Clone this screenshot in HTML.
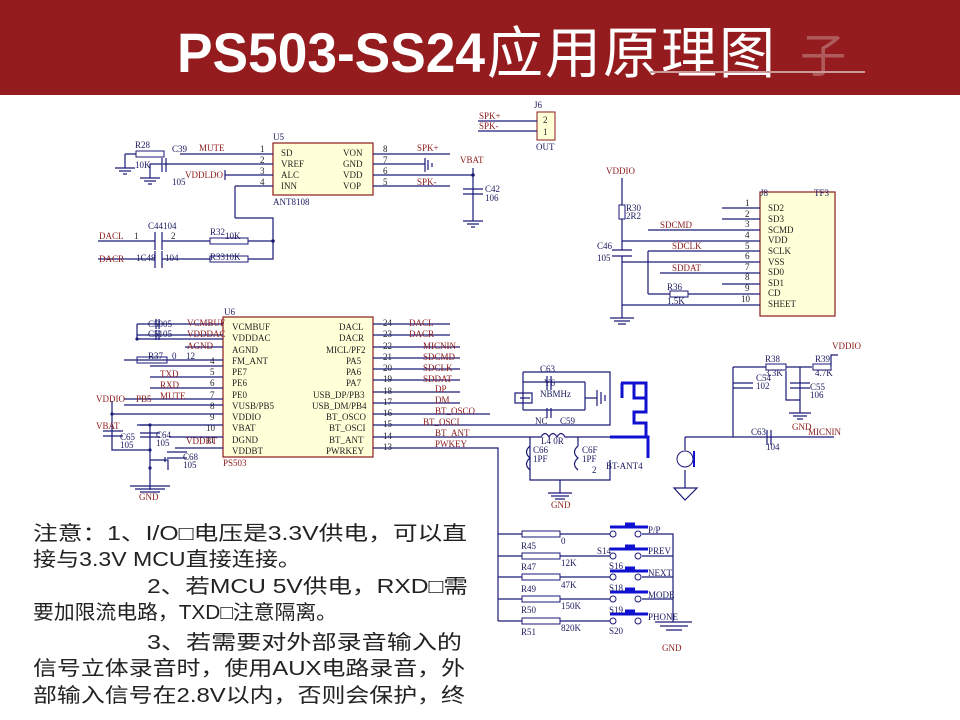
<!DOCTYPE html>
<html><head><meta charset="utf-8"><style>
body{margin:0;width:960px;height:720px;overflow:hidden;background:#fff}
svg{display:block}
.w{stroke:#1a1a78;stroke-width:1.2;fill:none}
.b{stroke:#1010d0;stroke-width:3;fill:none}
.lb{font-family:"Liberation Serif",serif;font-size:9px;fill:#1a1a60}
.nl{font-family:"Liberation Serif",serif;font-size:9px;fill:#8b1a1a}
.pn{font-family:"Liberation Serif",serif;font-size:9px;fill:#222}
.chip{fill:#ffffd8;stroke:#8b1a1a;stroke-width:1.2}
.note{font-family:"Liberation Sans","Noto Sans CJK SC",sans-serif;font-size:20px;fill:#222}
</style></head><body>
<svg width="960" height="720" viewBox="0 0 960 720">
<rect x="0" y="0" width="960" height="95" fill="#941c1e"/>
<text x="800" y="72" font-family="'Noto Sans CJK SC',sans-serif" font-size="46" fill="#b77" opacity="0.7">子</text>
<text x="177" y="72" font-family="'Liberation Sans','Noto Sans CJK SC',sans-serif" font-size="56" font-weight="bold" fill="#fff" textLength="308" lengthAdjust="spacingAndGlyphs">PS503-SS24</text>
<text x="487" y="73" font-family="'Noto Sans CJK SC',sans-serif" font-size="56" fill="#fff" textLength="288">应用原理图</text>
<line x1="650" y1="72" x2="865" y2="72" stroke="#c99" stroke-width="2"/>

<!-- J6 -->
<text class="lb" x="534" y="108" font-size="7">J6</text>
<rect x="537" y="112" width="18" height="28" fill="#ffffd8" stroke="#8b1a1a"/>
<text class="pn" x="543" y="123">2</text><text class="pn" x="543" y="135">1</text>
<text class="lb" x="536" y="150" font-size="7">OUT</text>
<line class="w" x1="478" y1="121" x2="537" y2="121"/><line class="w" x1="478" y1="131" x2="537" y2="131"/>
<text class="nl" x="479" y="119">SPK+</text><text class="nl" x="479" y="129">SPK-</text>

<!-- U5 -->
<rect class="chip" x="273" y="143" width="100" height="52"/>
<text class="lb" x="273" y="140">U5</text><text class="lb" x="273" y="205">ANT8108</text>
<g class="pn"><text x="281" y="156">SD</text><text x="281" y="167">VREF</text><text x="281" y="178">ALC</text><text x="281" y="189">INN</text>
<text x="343" y="156">VON</text><text x="343" y="167">GND</text><text x="343" y="178">VDD</text><text x="343" y="189">VOP</text>
<text x="260" y="152">1</text><text x="260" y="163">2</text><text x="260" y="174">3</text><text x="260" y="185">4</text>
<text x="383" y="152">8</text><text x="383" y="163">7</text><text x="383" y="174">6</text><text x="383" y="185">5</text></g>
<path class="w" d="M180 154H273M163 164H273M225 175H273M235 186H273M373 154H450M373 164H420M373 175H473M373 186H450"/>
<path class="w" d="M235 186V218"/>
<rect x="136" y="151" width="28" height="6" fill="none" stroke="#1a1a78"/>
<path class="w" d="M125 154H136M125 154V168M115 168H135M119 171H131M123 174H127"/>
<path class="w" d="M162 158V172M166 158V172M162 164H150V178M140 178H160M144 181H156M148 184H152"/>
<path class="w" d="M225 170V180"/>
<text class="nl" x="199" y="151">MUTE</text><text class="lb" x="135" y="148">R28</text><text class="lb" x="135" y="168">10K</text>
<text class="lb" x="172" y="152">C39</text><text class="lb" x="172" y="185">105</text><text class="nl" x="185" y="178">VDDLDO</text>
<path class="w" d="M425 158V172M428 160V170M432 163V167M420 164H425"/>
<text class="nl" x="417" y="151">SPK+</text><text class="nl" x="417" y="185">SPK-</text>
<text class="nl" x="460" y="163">VBAT</text>
<path class="w" d="M473 168V221M463 189H483M463 194H483M463 221H483M467 224H479M471 227H475"/>
<circle cx="473" cy="175" r="1.8" fill="#1a1a78"/>
<text class="lb" x="485" y="192">C42</text><text class="lb" x="485" y="201">106</text>
<path class="w" d="M98 241H155M162 241H210M248 241H273M98 259H155M162 259H210M248 259H273V218H235"/>
<path class="w" d="M155 232V250M162 232V250M155 251V268M162 251V268"/>
<rect x="210" y="238" width="38" height="6" fill="none" stroke="#1a1a78"/><rect x="210" y="256" width="38" height="6" fill="none" stroke="#1a1a78"/>
<circle cx="273" cy="241" r="1.8" fill="#1a1a78"/>
<text class="nl" x="99" y="239">DACL</text><text class="nl" x="99" y="262">DACR</text>
<text class="pn" x="134" y="239">1</text><text class="pn" x="171" y="239">2</text><text class="lb" x="148" y="229">C44104</text>
<text class="lb" x="136" y="261">1C48</text><text class="lb" x="165" y="261">104</text><text class="lb" x="210" y="235">R32</text><text class="lb" x="225" y="239">10K</text><text class="lb" x="210" y="260">R3310K</text>

<!-- U6 -->
<rect class="chip" x="223" y="317" width="150" height="140"/>
<text class="lb" x="224" y="315">U6</text><text class="nl" x="223" y="466">PS503</text>
<g class="pn">
<text x="232" y="330">VCMBUF</text><text x="232" y="341">VDDDAC</text><text x="232" y="353">AGND</text><text x="232" y="364">FM_ANT</text><text x="232" y="375">PE7</text><text x="232" y="386">PE6</text><text x="232" y="398">PE0</text><text x="232" y="409">VUSB/PB5</text><text x="232" y="420">VDDIO</text><text x="232" y="431">VBAT</text><text x="232" y="443">DGND</text><text x="232" y="454">VDDBT</text>
<text x="339" y="330">DACL</text><text x="339" y="341">DACR</text><text x="326" y="353">MICL/PF2</text><text x="346" y="364">PA5</text><text x="346" y="375">PA6</text><text x="346" y="386">PA7</text><text x="313" y="398">USB_DP/PB3</text><text x="312" y="409">USB_DM/PB4</text><text x="326" y="420">BT_OSCO</text><text x="329" y="431">BT_OSCI</text><text x="329" y="443">BT_ANT</text><text x="326" y="454">PWRKEY</text>
<text x="210" y="364">4</text><text x="210" y="375">5</text><text x="210" y="386">6</text><text x="210" y="398">7</text><text x="210" y="409">8</text><text x="210" y="420">9</text><text x="206" y="431">10</text><text x="206" y="443">11</text>
<text x="383" y="326">24</text><text x="383" y="337">23</text><text x="383" y="349">22</text><text x="383" y="360">21</text><text x="383" y="371">20</text><text x="383" y="382">19</text><text x="383" y="394">18</text><text x="383" y="405">17</text><text x="383" y="416">16</text><text x="383" y="427">15</text><text x="383" y="439">14</text><text x="383" y="450">13</text>
</g>
<path class="w" d="M137 324H223M137 335H223M137 324V339H223M185 347H223M124 360H223M150 366H223M150 377H223M150 388H223M124 399H223M124 405H223M112 414H223M137 425H223M170 437H223M175 448H223"/>
<path class="w" d="M373 324H450M373 335H450M373 347H460M373 358H460M373 369H460M373 380H460M373 392H460M373 403H460M373 414H490M373 425H490M373 437H490M373 448H490"/>
<path class="w" d="M156 319V329M159 319V329M156 330V340M159 330V340"/>
<rect x="137" y="357" width="30" height="6" fill="none" stroke="#1a1a78"/>
<path class="w" d="M112 401V450H150V490M150 425V450M140 425H150M150 460H168V470M165 462V457M130 486H170M135 489H165M140 492H160M103 431H123M103 436H123M140 433H160M140 437H160M167 452H187M167 458H187"/>
<circle cx="112" cy="414" r="1.6" fill="#1a1a78"/><circle cx="150" cy="425" r="1.6" fill="#1a1a78"/><circle cx="150" cy="450" r="1.6" fill="#1a1a78"/><circle cx="150" cy="468" r="1.6" fill="#1a1a78"/><circle cx="137" cy="339" r="1.6" fill="#1a1a78"/>
<g class="nl"><text x="187" y="326">VCMBUF</text><text x="187" y="337">VDDDAC</text><text x="187" y="349">AGND</text><text x="160" y="377">TXD</text><text x="160" y="388">RXD</text><text x="160" y="399">MUTE</text><text x="96" y="402">VDDIO</text><text x="136" y="402">PB5</text><text x="96" y="429">VBAT</text><text x="186" y="444">VDDBT</text><text x="139" y="500">GND</text>
<text x="409" y="326">DACL</text><text x="409" y="337">DACR</text><text x="423" y="349">MICNIN</text><text x="423" y="360">SDCMD</text><text x="423" y="371">SDCLK</text><text x="423" y="382">SDDAT</text><text x="435" y="392">DP</text><text x="435" y="403">DM</text><text x="435" y="414">BT_OSCO</text><text x="423" y="425">BT_OSCI</text><text x="435" y="436">BT_ANT</text><text x="435" y="447">PWKEY</text></g>
<g class="lb"><text x="148" y="327">C5005</text><text x="148" y="337">C5105</text><text x="148" y="359">R37</text><text x="172" y="359">0</text><text x="186" y="359">12</text><text x="120" y="440">C65</text><text x="120" y="448">105</text><text x="156" y="438">C64</text><text x="156" y="446">105</text><text x="183" y="460">C68</text><text x="183" y="468">105</text></g>

<!-- crystal / antenna -->
<path class="w" d="M523 372H610V425H490M523 382H585M523 410H585M523 372V410M585 382V410M520 398H530M515 393H532V403H515Z"/>
<path class="w" d="M547 376V390M551 376V390M547 408V418M551 418V408M597 390V406M601 392V404M605 395V401M585 398H597"/>
<path class="w" d="M490 437H530M530 437V480H610V460M530 446Q523 452 530 458Q523 464 530 470M578 446Q571 452 578 458Q571 464 578 470M578 437V446M530 437H541Q545 430 549 437Q553 430 557 437Q561 430 565 437H610M560 480V493M548 493H572M551 496H569M555 499H565"/>
<path class="b" d="M621 383H646V412H634V423H646V437M610 437H648V458M622 383V398"/>
<path class="b" d="M634 383V398H646"/>
<g class="lb"><text x="540" y="372">C63</text><text x="544" y="386">Y6</text><text x="540" y="397">NBMHz</text><text x="535" y="424">NC</text><text x="560" y="424">C59</text><text x="541" y="444">L4 0R</text><text x="533" y="453">C66</text><text x="533" y="462">1PF</text><text x="582" y="453">C6F</text><text x="582" y="462">1PF</text><text x="592" y="473">2</text></g>
<text class="lb" x="606" y="469">BT-ANT4</text><text class="nl" x="551" y="508">GND</text>

<!-- buttons -->
<path class="w" d="M490 448H498V621M498 534H522M498 556H522M498 577H522M498 599H522M498 621H522M560 534H610M560 556H610M560 577H610M560 599H610M560 621H610M642 534H673V622M642 556H673M642 577H673M642 599H673M655 622H692M660 626H688M666 630H682"/>
<g fill="none" stroke="#1a1a78"><rect x="522" y="531" width="38" height="6"/><rect x="522" y="553" width="38" height="6"/><rect x="522" y="574" width="38" height="6"/><rect x="522" y="596" width="38" height="6"/><rect x="522" y="618" width="38" height="6"/>
<circle cx="613" cy="534" r="3"/><circle cx="638" cy="534" r="3"/><circle cx="613" cy="556" r="3"/><circle cx="638" cy="556" r="3"/><circle cx="613" cy="577" r="3"/><circle cx="638" cy="577" r="3"/><circle cx="613" cy="599" r="3"/><circle cx="638" cy="599" r="3"/><circle cx="613" cy="621" r="3"/><circle cx="638" cy="621" r="3"/></g>
<path class="b" stroke-width="2.5" d="M610 527H648M625 524H635M610 549H648M625 546H635M610 571H648M625 568H635M610 592H648M625 589H635M610 614H648M625 611H635"/>
<g class="lb"><text x="521" y="549">R45</text><text x="561" y="544">0</text><text x="521" y="570">R47</text><text x="561" y="566">12K</text><text x="521" y="592">R49</text><text x="561" y="588">47K</text><text x="521" y="613">R50</text><text x="561" y="609">150K</text><text x="521" y="635">R51</text><text x="561" y="631">820K</text>
<text x="597" y="554">S14</text><text x="609" y="569">S16</text><text x="609" y="591">S18</text><text x="609" y="613">S19</text><text x="609" y="634">S20</text>
<text x="648" y="533">P/P</text><text x="648" y="554">PREV</text><text x="648" y="576">NEXT</text><text x="648" y="598">MODE</text><text x="648" y="620">PHONE</text></g>
<text class="nl" x="662" y="651">GND</text>

<!-- mic -->
<path class="w" d="M685 437H834M733 367H747M733 367V437M747 367H766M786 367H812M831 367V355H838M800 367V400H786V371M786 400H800M733 383H753M733 388H753M790 383H810M790 388H810M800 400V413M789 413H811M793 416H807M797 419H803M767 430V445M771 430V445M685 437V450M685 470V488M674 488H697L685 500Z"/>
<rect x="766" y="364" width="20" height="6" fill="none" stroke="#1a1a78"/><rect x="813" y="364" width="18" height="6" fill="none" stroke="#1a1a78"/>
<circle cx="685" cy="459" r="8" fill="none" stroke="#1a1a78"/><path d="M694 451V467" stroke="#1010d0" stroke-width="2"/>
<g class="lb"><text x="765" y="362">R38</text><text x="765" y="376">3.3K</text><text x="815" y="362">R39</text><text x="815" y="376">4.7K</text><text x="756" y="381">C54</text><text x="756" y="389">102</text><text x="810" y="390">C55</text><text x="810" y="398">106</text><text x="751" y="435">C63</text><text x="766" y="450">104</text></g>
<g class="nl"><text x="832" y="349">VDDIO</text><text x="792" y="430">GND</text><text x="808" y="435">MICNIN</text></g>

<!-- J8 TF -->
<rect class="chip" x="760" y="192" width="75" height="124"/>
<text class="lb" x="760" y="196">J8</text><text class="lb" x="814" y="196">TF3</text>
<g class="pn"><text x="768" y="211">SD2</text><text x="768" y="222">SD3</text><text x="768" y="233">SCMD</text><text x="768" y="243">VDD</text><text x="768" y="254">SCLK</text><text x="768" y="265">VSS</text><text x="768" y="275">SD0</text><text x="768" y="286">SD1</text><text x="768" y="296">CD</text><text x="768" y="307">SHEET</text>
<text x="745" y="206">1</text><text x="745" y="217">2</text><text x="745" y="227">3</text><text x="745" y="238">4</text><text x="745" y="249">5</text><text x="745" y="259">6</text><text x="745" y="270">7</text><text x="745" y="280">8</text><text x="745" y="291">9</text><text x="741" y="302">10</text></g>
<path class="w" d="M722 208H760M722 219H760M648 230H760M622 241H760M648 251H760M622 262H760M660 273H760M722 284H760M648 294H670M688 294H760M622 305H760M648 251V294M622 178V205M622 219V250M612 250H632M612 256H632M622 256V318M610 318H634M614 321H630M618 324H626"/>
<rect x="619" y="205" width="6" height="14" fill="none" stroke="#1a1a78"/><rect x="670" y="291" width="18" height="6" fill="none" stroke="#1a1a78"/>
<g class="nl"><text x="606" y="174">VDDIO</text><text x="660" y="228">SDCMD</text><text x="672" y="249">SDCLK</text><text x="672" y="271">SDDAT</text></g>
<g class="lb"><text x="626" y="211">R30</text><text x="626" y="219">2R2</text><text x="597" y="249">C46</text><text x="597" y="261">105</text><text x="667" y="290">R36</text><text x="667" y="304">1.5K</text></g>

<!-- notes -->
<g class="note">
<text x="33" y="540" textLength="434" lengthAdjust="spacingAndGlyphs">注意：1、I/O□电压是3.3V供电，可以直</text>
<text x="33" y="566" textLength="268" lengthAdjust="spacingAndGlyphs">接与3.3V MCU直接连接。</text>
<text x="147" y="593" textLength="321" lengthAdjust="spacingAndGlyphs">2、若MCU 5V供电，RXD□需</text>
<text x="33" y="619" textLength="304" lengthAdjust="spacingAndGlyphs">要加限流电路，TXD□注意隔离。</text>
<text x="147" y="649" textLength="315" lengthAdjust="spacingAndGlyphs">3、若需要对外部录音输入的</text>
<text x="33" y="675" textLength="432" lengthAdjust="spacingAndGlyphs">信号立体录音时，使用AUX电路录音，外</text>
<text x="33" y="702" textLength="432" lengthAdjust="spacingAndGlyphs">部输入信号在2.8V以内，否则会保护，终</text>
</g>
</svg>
</body></html>
